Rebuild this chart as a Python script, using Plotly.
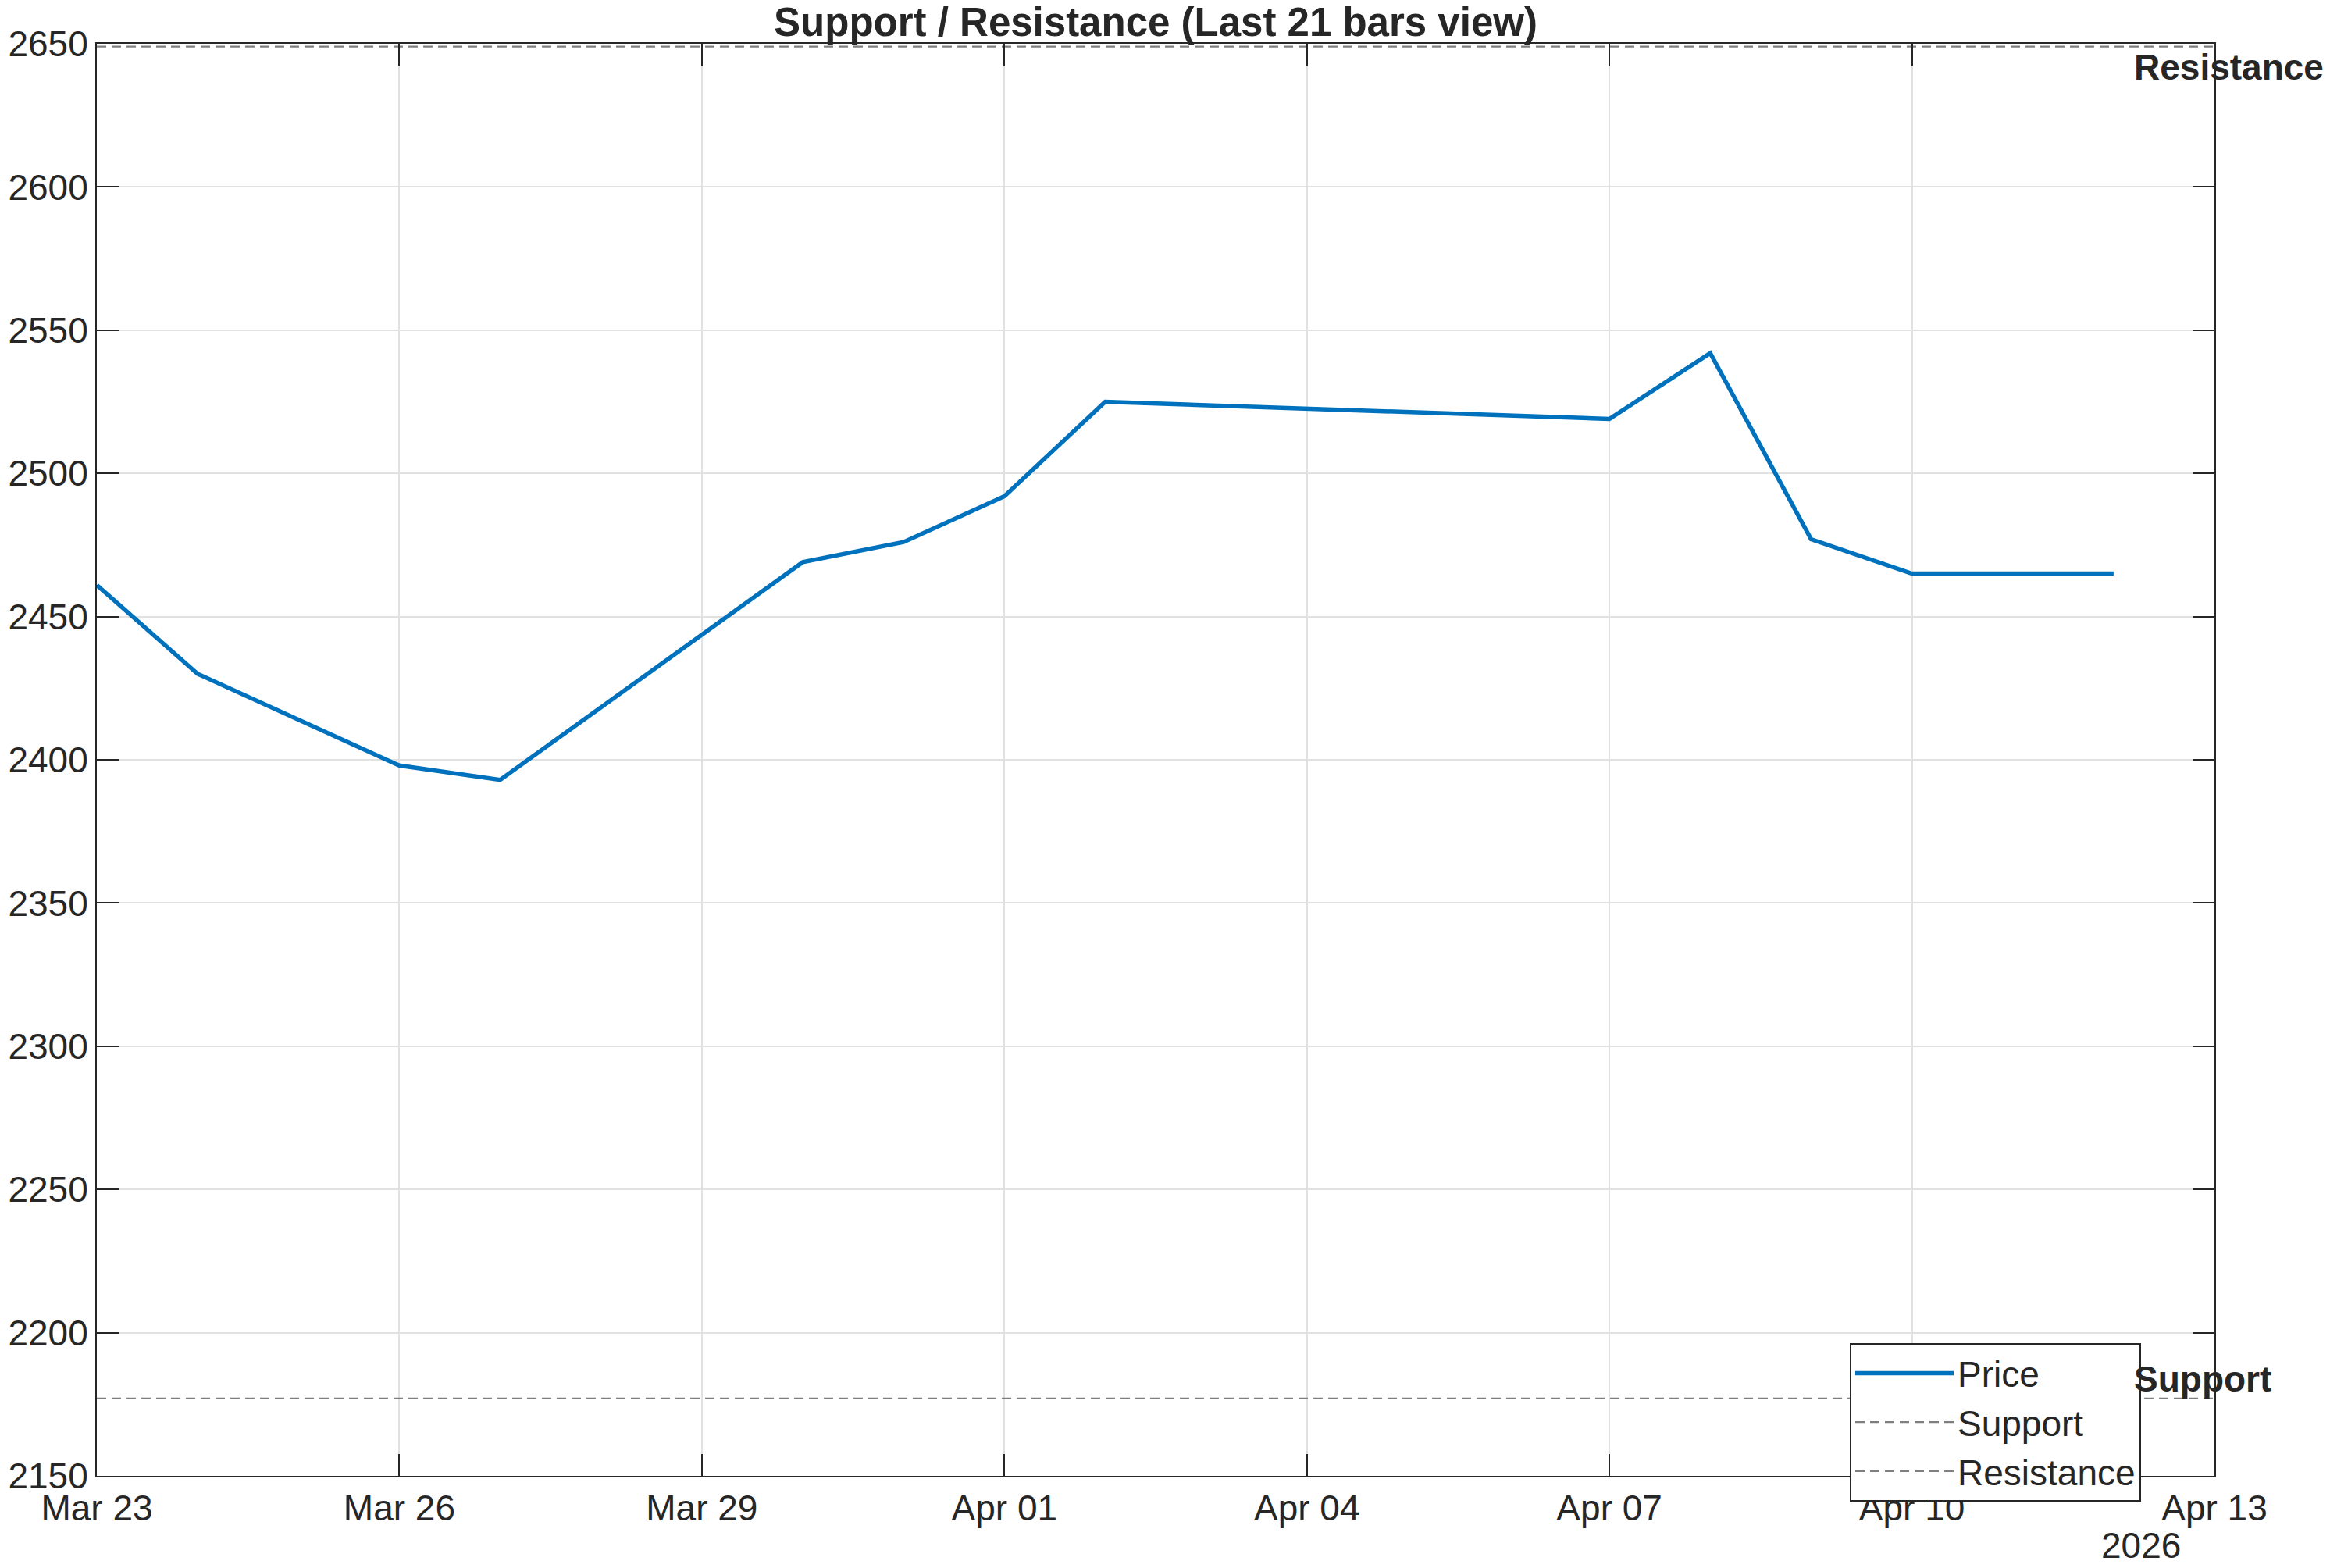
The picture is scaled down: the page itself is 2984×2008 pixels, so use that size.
import plotly.graph_objects as go

dates = ["2026-03-23", "2026-03-24", "2026-03-26", "2026-03-27", "2026-03-30",
         "2026-03-31", "2026-04-01", "2026-04-02", "2026-04-07", "2026-04-08",
         "2026-04-09", "2026-04-10", "2026-04-12"]
price = [2461, 2430, 2398, 2393, 2469, 2476, 2492, 2525, 2519, 2542, 2477, 2465, 2465]
support_level = 2177
resistance_level = 2649
x_start, x_end = "2026-03-23", "2026-04-13"
y_min, y_max = 2150, 2650

W, H = 2984, 2008
L, R, T, B = 124, 148, 56, 118
FONT = "Liberation Sans, Arial, Helvetica, sans-serif"
AX = "#262626"

fig = go.Figure()
fig.add_trace(go.Scatter(x=dates, y=price, mode="lines", name="Price",
                         line=dict(color="#0072BD", width=5.5)))
fig.add_trace(go.Scatter(x=[x_start, x_end], y=[support_level, support_level], mode="lines",
                         name="Support", line=dict(color="#7f7f7f", width=2.2, dash="12px,7px")))
fig.add_trace(go.Scatter(x=[x_start, x_end], y=[resistance_level, resistance_level], mode="lines",
                         name="Resistance", line=dict(color="#7f7f7f", width=2.2, dash="12px,7px")))

fig.add_annotation(x=dates[-1], y=resistance_level, xref="x", yref="y", text="<b>Resistance</b>",
                   showarrow=False, xanchor="left", yanchor="top", xshift=24, yshift=2,
                   font=dict(family=FONT, size=46, color=AX))
fig.add_annotation(x=dates[-1], y=support_level, xref="x", yref="y", text="<b>Support</b>",
                   showarrow=False, xanchor="left", yanchor="bottom", xshift=24, yshift=-3,
                   font=dict(family=FONT, size=46, color=AX))
fig.add_annotation(x=(2742 - L) / (W - L - R), y=-(1979 - (H - B)) / (H - T - B), xref="paper", yref="paper",
                   text="2026", showarrow=False, xanchor="center", yanchor="middle",
                   font=dict(family=FONT, size=46, color=AX))

axis_common = dict(showline=True, linecolor=AX, linewidth=2, mirror="allticks",
                   ticks="inside", ticklen=28, tickwidth=2, tickcolor=AX,
                   showgrid=True, gridcolor="#e1e1e1", gridwidth=2, zeroline=False,
                   automargin=False,
                   tickfont=dict(family=FONT, size=46, color=AX))

fig.update_layout(
    width=W, height=H,
    margin=dict(l=L, r=R, t=T, b=B, pad=0),
    paper_bgcolor="white", plot_bgcolor="white",
    title=dict(text="<b>Support / Resistance (Last 21 bars view)</b>", x=(L + (W - R)) / 2 / W,
               xanchor="center", y=1 - 28 / H, yanchor="middle",
               font=dict(family=FONT, size=51, color=AX)),
    xaxis=dict(type="date", range=[x_start, x_end], tick0=x_start, dtick=3 * 86400000,
               tickformat="%b %d", **axis_common),
    yaxis=dict(range=[y_min, y_max], tick0=y_min, dtick=50, ticklabelstandoff=0, **axis_common),
    showlegend=True,
    legend=dict(x=(2369 - L) / (W - L - R), y=(H - B - 1720) / (H - T - B),
                xanchor="left", yanchor="top", bgcolor="white", bordercolor=AX, borderwidth=2,
                font=dict(family=FONT, size=46, color=AX), itemwidth=126, tracegroupgap=0),
)
fig.write_html("out.html")
